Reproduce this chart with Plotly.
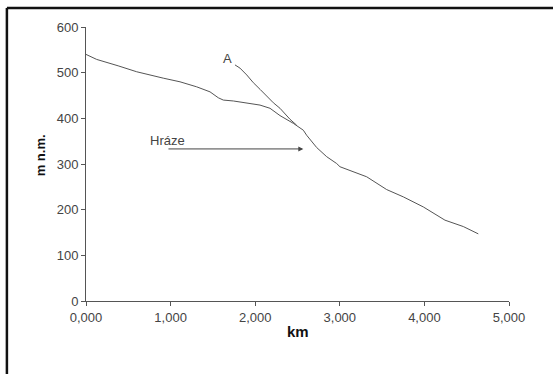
import plotly.graph_objects as go

# main profile
main_km = [0, 126, 380, 599, 913, 1111, 1308, 1466, 1564, 1623, 1742, 2057, 2175, 2293, 2451,
           2569, 2608, 2727, 2845, 2963, 3002, 3318, 3554, 3751, 3987, 4243, 4460, 4637]
main_m = [540, 529, 515, 502, 488, 480, 469, 458, 445, 440, 438, 429, 422, 406, 389,
          374, 363, 336, 316, 301, 294, 272, 244, 228, 206, 177, 163, 147]

# branch A
a_km = [1761, 1820, 1900, 1978, 2060, 2136, 2215, 2293, 2411, 2490]
a_m = [517, 510, 495, 478, 463, 448, 434, 422, 398, 385]

x_ticks = [0, 1000, 2000, 3000, 4000, 5000]
x_labels = ["0,000", "1,000", "2,000", "3,000", "4,000", "5,000"]
y_ticks = [0, 100, 200, 300, 400, 500, 600]

label_a = ("A", 1678, 532)
label_hraze = ("Hráze", 730, 352)
arrow_from = (957, 333)
arrow_to = (2569, 333)

line_col = "#555555"
fig = go.Figure()
fig.add_trace(go.Scatter(x=main_km, y=main_m, mode="lines",
                         line=dict(color=line_col, width=1), showlegend=False))
fig.add_trace(go.Scatter(x=a_km, y=a_m, mode="lines",
                         line=dict(color=line_col, width=1), showlegend=False))

font = "Liberation Sans, Arial, sans-serif"
fig.update_layout(
    width=553, height=374,
    margin=dict(l=86, r=44, t=27, b=73),
    paper_bgcolor="white", plot_bgcolor="white",
    font=dict(family=font, size=13, color="#444444"),
    xaxis=dict(range=[0, 5000], tickvals=x_ticks, ticktext=x_labels,
               showgrid=False, zeroline=False, showline=True, linecolor="#555555",
               linewidth=1, ticks="outside", ticklen=4, tickcolor="#555555",
               tickfont=dict(size=13, color="#444444")),
    yaxis=dict(range=[0, 600], tickvals=y_ticks,
               showgrid=False, zeroline=False, showline=True, linecolor="#555555",
               linewidth=1, ticks="outside", ticklen=4, tickcolor="#555555",
               tickfont=dict(size=13, color="#444444")),
)

fig.add_annotation(x=label_a[1], y=label_a[2], text=label_a[0], showarrow=False,
                   font=dict(size=13, color="#444444"))
fig.add_annotation(x=label_hraze[1], y=label_hraze[2], text=label_hraze[0], showarrow=False,
                   xanchor="left", font=dict(size=13, color="#444444"))
fig.add_annotation(x=arrow_to[0], y=arrow_to[1], ax=arrow_from[0], ay=arrow_from[1],
                   axref="x", ayref="y", xref="x", yref="y", text="", showarrow=True,
                   arrowhead=2, arrowsize=1, arrowwidth=1, arrowcolor="#444444")

fig.add_annotation(x=0.501, y=-0.15, xref="paper", yref="paper", text="<b>km</b>",
                   showarrow=False, font=dict(size=15, color="#111111"))
fig.add_annotation(x=-0.128, y=0.533, xref="paper", yref="paper", text="<b>m n.m.</b>",
                   showarrow=False, textangle=-90, font=dict(size=13, color="#111111"))

# frame lines (top and left)
fig.add_shape(type="line", xref="paper", yref="paper", x0=-0.187, x1=1.2, y0=1.069, y1=1.069,
              line=dict(color="#111111", width=2.5))
fig.add_shape(type="line", xref="paper", yref="paper", x0=-0.187, x1=-0.187, y0=1.069, y1=-0.3,
              line=dict(color="#111111", width=2.5))

fig.write_html("out.html", config={"displayModeBar": False},
               post_script="document.body.style.margin='0';document.body.style.overflow='hidden';")
